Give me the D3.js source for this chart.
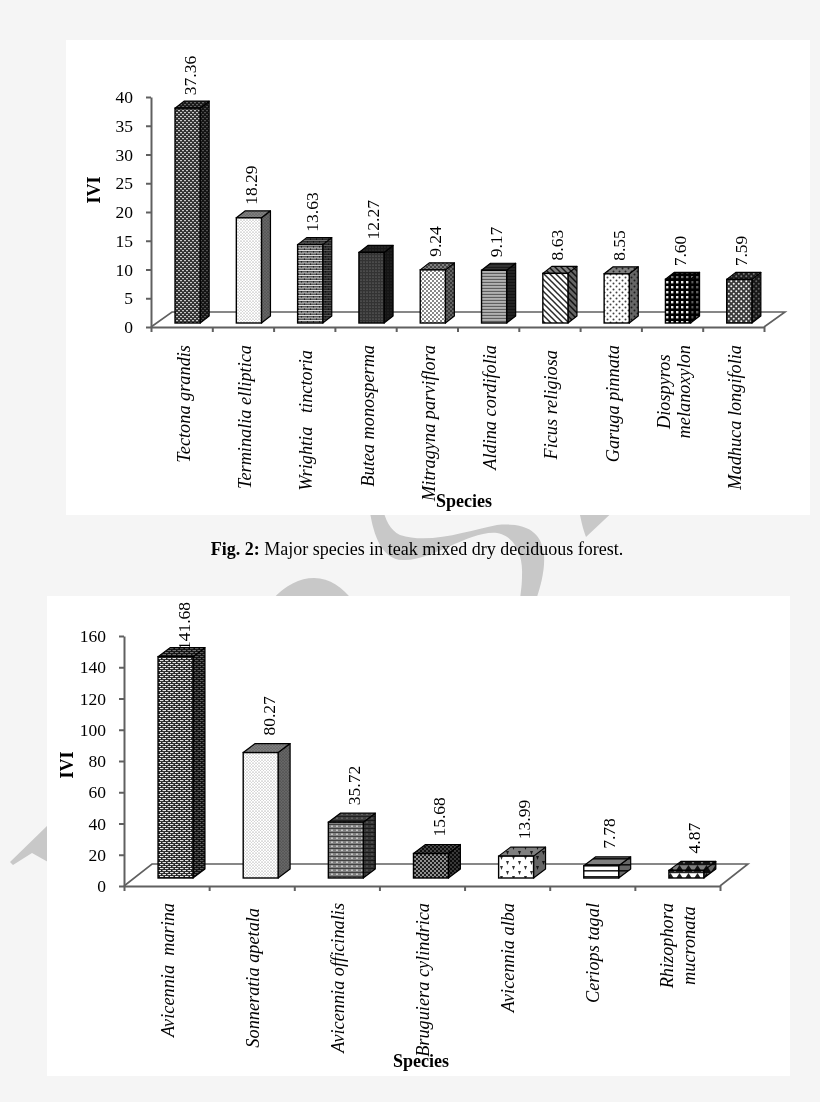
<!DOCTYPE html>
<html><head><meta charset="utf-8">
<script src="https://cdn.jsdelivr.net/npm/d3@7/dist/d3.min.js"></script>
<style>
html,body{margin:0;padding:0;background:#f5f5f5}
svg{display:block;filter:blur(0.7px)}
text{font-family:"Liberation Serif",serif;fill:#000}
</style></head><body>
<svg id="c" width="820" height="1102"></svg>
<script>
// ---- data ----
const speciesA = ["Tectona grandis","Terminalia elliptica","Wrightia\u00a0\u00a0 tinctoria","Butea monosperma","Mitragyna parviflora","Aldina cordifolia","Ficus religiosa","Garuga pinnata","Diospyros|melanoxylon","Madhuca longifolia"];
const valuesA = [37.36,18.29,13.63,12.27,9.24,9.17,8.63,8.55,7.60,7.59];
const labelsA = ["37.36","18.29","13.63","12.27","9.24","9.17","8.63","8.55","7.60","7.59"];
const ticksA = [0,5,10,15,20,25,30,35,40];
const speciesB = ["Avicennia\u00a0\u00a0marina","Sonneratia apetala","Avicennia officinalis","Bruguiera cylindrica","Avicennia alba","Ceriops tagal","Rhizophora|mucronata"];
const valuesB = [141.68,80.27,35.72,15.68,13.99,7.78,4.87];
const labelsB = ["141.68","80.27","35.72","15.68","13.99","7.78","4.87"];
const ticksB = [0,20,40,60,80,100,120,140,160];
const fillsA = ["hbrick","fine","brick","dense","dots","hgray","diag","spaced","grid","rings"];
const fillsB = ["hbrick2","fine","gridgray","ringsdark","tri","hbold","zig"];
const caption = ["Fig. 2:"," Major species in teak mixed dry deciduous forest."];

const svg = d3.select("#c");
const defs = svg.append("defs");
function pat(id,w,h,bg,draw){
  const p = defs.append("pattern").attr("id",id).attr("patternUnits","userSpaceOnUse").attr("width",w).attr("height",h);
  p.append("rect").attr("width",w).attr("height",h).attr("fill",bg);
  draw(p);
}
const R=(p,x,y,w,h,f)=>p.append("rect").attr("x",x).attr("y",y).attr("width",w).attr("height",h).attr("fill",f);
const C=(p,x,y,r,f)=>p.append("circle").attr("cx",x).attr("cy",y).attr("r",r).attr("fill",f);
const L_=(p,d,s,sw,f)=>p.append("path").attr("d",d).attr("stroke",s).attr("stroke-width",sw).attr("fill",f||"none");
pat("hbrick",4,4,"#303030",p=>{R(p,0,0,2,1.2,"#c8c8c8");R(p,2,2,2,1.2,"#c8c8c8");});
pat("hbrick2",5,4,"#222",p=>{R(p,0,0,3.4,1.1,"#e4e4e4");R(p,2.5,2,3.4,1.1,"#e4e4e4");R(p,0,2,1,1.1,"#e4e4e4");});
pat("fine",3,3,"#fff",p=>{C(p,1,1,.55,"#777");C(p,2.5,2.5,.4,"#999");});
pat("brick",6,5,"#5a5a5a",p=>{R(p,0,0,6,1,"#e0e0e0");R(p,0,2.5,6,1,"#d0d0d0");R(p,1,1,1,1.5,"#222");R(p,4,3.5,1,1.5,"#222");});
pat("dense",3,3,"#333",p=>{C(p,1,1,.6,"#8c8c8c");});
pat("dots",4,4,"#fff",p=>{C(p,1,1,.95,"#555");C(p,3,3,.95,"#555");});
pat("hgray",3,3,"#9c9c9c",p=>{R(p,0,0,3,.8,"#505050");R(p,0,1.6,3,.6,"#d0d0d0");});
pat("diag",6,6,"#fff",p=>{L_(p,"M-1,-1L7,7M-4,2L4,10M2,-4L10,4","#2a2a2a",1.5);});
pat("spaced",6,6,"#fff",p=>{C(p,1.5,1.5,1,"#444");C(p,4.5,4.5,1,"#444");});
pat("grid",5,5,"#000",p=>{R(p,1,1,2.4,2.4,"#e8e8e8");});
pat("rings",5,5,"#3a3a3a",p=>{C(p,1.25,1.25,1,"#f4f4f4");C(p,3.75,3.75,1,"#f4f4f4");});
pat("gridgray",5,4,"#808080",p=>{R(p,0,0,5,.9,"#383838");R(p,1,1.6,2,1.2,"#d8d8d8");});
pat("ringsdark",4,4,"#1c1c1c",p=>{C(p,1,1,.9,"#c8c8c8");C(p,3,3,.9,"#c8c8c8");});
pat("tri",12,10,"#fff",p=>{L_(p,"M2,1L5,1L3.5,5Z","none",0,"#333");L_(p,"M8,6L11,6L9.5,10Z","none",0,"#333");});
pat("hbold",6,6,"#fff",p=>{R(p,0,0,6,1.6,"#222");});
pat("zig",9,8,"#fff",p=>{L_(p,"M0,8L4.5,1L9,8Z","none",0,"#222");R(p,0,0,9,1.2,"#222");});

// ---- watermark ----
const wm = svg.append("g").attr("fill","#c8c8c8");
wm.append("path").attr("d","M369,505C372,530 380,560 403,560C430,562 470,530 497,533C515,536 523,555 522,575C522,585 521,590 520,600L536,600C541,585 545,570 544,555C542,535 530,522 497,525C470,530 430,545 400,535C390,530 385,520 382,505Z");
wm.append("path").attr("d","M580,505L580,515C582,525 584,532 586,537L620,505Z");
wm.append("path").attr("d","M272,600C285,585 300,578 314,578C330,578 343,588 352,600Z");
wm.append("path").attr("d","M48,825L10,862L13,865L32,853L48,862Z");

// ---- panels ----
svg.append("rect").attr("x",66).attr("y",40).attr("width",744).attr("height",475).attr("fill","#fff");
svg.append("rect").attr("x",47).attr("y",596).attr("width",743).attr("height",480).attr("fill","#fff");

function chart(o){
  const g = svg.append("g");
  const x = d3.scaleBand().domain(o.species).range([o.x0,o.x1]);
  const y = d3.scaleLinear().domain([0,o.max]).range([o.y0,o.yTop]);
  const s = x.step();
  const grey = "#606060";
  // floor
  g.append("path").attr("d",`M${o.x0},${o.y0}L${o.x0+o.fx},${o.y0-o.fy}L${o.x1+o.fx},${o.y0-o.fy}L${o.x1},${o.y0}`)
    .attr("fill","none").attr("stroke",grey).attr("stroke-width",1.6);
  // axes
  const ay = g.append("g").attr("transform",`translate(${o.x0},0)`)
    .call(d3.axisLeft(y).tickValues(o.ticks).tickSize(5).tickPadding(o.pad).tickSizeOuter(0));
  const ax = g.append("g").attr("transform",`translate(0,${o.y0})`)
    .call(d3.axisBottom(d3.scaleLinear().domain([0,o.species.length]).range([o.x0,o.x1]))
      .tickValues(d3.range(o.species.length+1)).tickSize(5).tickFormat("").tickSizeOuter(0));
  [ay,ax].forEach(a=>{a.selectAll("path,line").attr("stroke",grey).attr("stroke-width",2);});
  ay.selectAll("text").attr("font-size",o.tickFont).style("font-family",'"Liberation Serif",serif').attr("fill","#111");
  // bars
  const bw = s*o.bw, off = s*o.off, base = o.y0-o.lift;
  const bars = g.selectAll("g.bar").data(o.values).enter().append("g").attr("class","bar");
  bars.each(function(v,i){
    const b = d3.select(this), L = x(o.species[i])+off, T = y(v)-o.lift, W=bw, dx=o.dx, dy=o.dy;
    const side = `M${L+W},${T}L${L+W+dx},${T-dy}L${L+W+dx},${base-dy}L${L+W},${base}Z`;
    const top = `M${L},${T}L${L+dx},${T-dy}L${L+W+dx},${T-dy}L${L+W},${T}Z`;
    const deep = o.fills[i]==="hgray" ? .2 : 0;
    [[side,.6+deep],[top,.5+deep]].forEach(([d,a])=>{
      b.append("path").attr("d",d).attr("fill",`url(#${o.fills[i]})`);
      b.append("path").attr("d",d).attr("fill","#000").attr("fill-opacity",a).attr("stroke","#000").attr("stroke-width",1.2).attr("stroke-linejoin","round");
    });
    b.append("rect").attr("x",L).attr("y",T).attr("width",W).attr("height",base-T)
      .attr("fill",`url(#${o.fills[i]})`).attr("stroke","#000").attr("stroke-width",1.4);
    // value label
    const ly = Math.max(T-dy-o.gap,o.labelMin);
    g.append("text").attr("transform",`translate(${L+W/2+o.lblOff},${ly}) rotate(-90)`)
      .attr("font-size",o.valFont).text(o.labels[i]);
  });
  // category labels
  o.species.forEach(name=>{
    const cx = x(name)+s/2+o.catOff, lines = name.split("|"), top = o.y0+o.catTop+(o.nudge[name]||0);
    if(lines.length===1){
      g.append("text").attr("transform",`translate(${cx},${top}) rotate(-90)`).attr("text-anchor","end")
        .attr("font-size",o.catFont).attr("font-style","italic").text(name);
    } else {
      const els = lines.map((t,j)=>g.append("text").attr("font-size",o.catFont).attr("font-style","italic").attr("text-anchor","middle").text(t));
      const m = d3.max(els,e=>e.node().getComputedTextLength());
      els.forEach((e,j)=>e.attr("transform",`translate(${cx+(j-(lines.length-1)/2)*o.lineGap},${top+m/2}) rotate(-90)`));
    }
  });
  // titles
  g.append("text").attr("x",o.spX).attr("y",o.spY).attr("text-anchor","middle").attr("font-size",o.titleFont).attr("font-weight","bold").text("Species");
  g.append("text").attr("transform",`translate(${o.iviX},${o.iviY}) rotate(-90)`).attr("text-anchor","middle").attr("font-size",o.titleFont).attr("font-weight","bold").text("IVI");
}

chart({species:speciesA,values:valuesA,labels:labelsA,ticks:ticksA,fills:fillsA,max:40,
  x0:151,x1:764,y0:327,yTop:97,fx:21,fy:15,dx:9,dy:7,lift:4,bw:.41,off:.392,pad:13,
  tickFont:17.5,valFont:17.5,catFont:18.3,titleFont:18,gap:6,labelMin:0,lblOff:8,catOff:8,catTop:18,lineGap:20,
  nudge:{"Wrightia\u00a0\u00a0 tinctoria":5,"Ficus religiosa":5},spX:464,spY:507,iviX:100,iviY:190});
chart({species:speciesB,values:valuesB,labels:labelsB,ticks:ticksB,fills:fillsB,max:160,
  x0:124,x1:720,y0:886,yTop:636,fx:28,fy:22,dx:12,dy:9,lift:8,bw:.41,off:.4,pad:13,
  tickFont:17.5,valFont:17.5,catFont:18.3,titleFont:18,gap:8,labelMin:650,lblOff:14,catOff:7,catTop:17,lineGap:22,
  nudge:{"Sonneratia apetala":5},spX:421,spY:1067,iviX:73,iviY:765});

// caption
const cap = svg.append("text").attr("x",417).attr("y",555).attr("text-anchor","middle").attr("font-size",18);
cap.append("tspan").attr("font-weight","bold").text(caption[0]);
cap.append("tspan").text(caption[1]);
</script>
</body></html>
